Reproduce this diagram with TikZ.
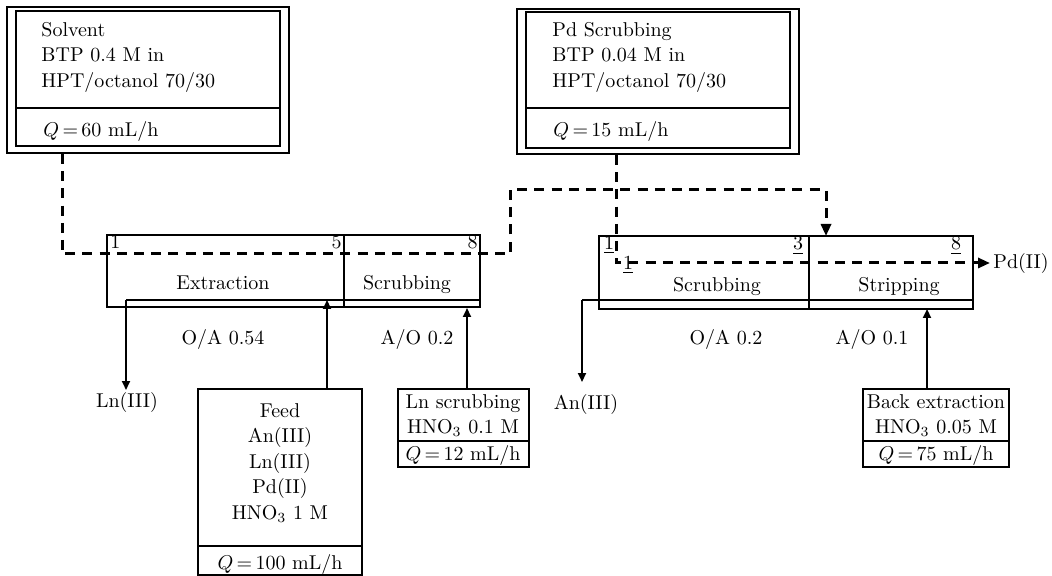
\documentclass[tikz,border=0pt]{standalone}
\usetikzlibrary{arrows.meta}

\begin{document}
\begin{tikzpicture}[x=0.5pt,y=-0.5pt,frame/.style={line width=0.6pt},organic/.style={line width=1.5pt,dash pattern=on 5pt off 3.6pt},aqueous/.style={line width=1pt},flowtip/.style={-{Triangle[length=4.5pt,width=4pt]}},orgtip/.style={-{Triangle[length=6pt,width=5pt]}},txt/.style={font=\fontsize{10}{12.75}\selectfont,inner sep=0pt,align=center},stage/.style={font=\fontsize{10}{12}\selectfont,inner sep=0pt}]
\useasboundingbox (0,0) rectangle (1052,576);
% feed boxes
\draw[frame] (7,7) rectangle (289,153);
\draw[frame] (16,11) rectangle (280,146);
\draw[frame] (16,108) -- (280,108);
\draw[frame] (517,9) rectangle (799,154);
\draw[frame] (526,12) rectangle (790,148);
\draw[frame] (526,108) -- (790,108);
\draw[frame] (198,389) rectangle (362,575);
\draw[frame] (198,546) -- (362,546);
\draw[frame] (398,389) rectangle (529,467);
\draw[frame] (398,441) -- (529,441);
\draw[frame] (863,389) rectangle (1009,467);
\draw[frame] (863,441) -- (1009,441);
% contactor banks
\draw[frame] (107,235) rectangle (480,307);
\draw[frame] (344,235) -- (344,307);
\draw[frame] (599,236) rectangle (973,309);
\draw[frame] (809,236) -- (809,309);
% flow points
\coordinate (solvout) at (62,154);
\coordinate (loopA) at (510,254);
\coordinate (loopB) at (826,190);
\coordinate (stripin) at (826,236);
\coordinate (pdout) at (616,155);
\coordinate (pdexit) at (990,263);
\coordinate (extrR) at (480,300);
\coordinate (lnout) at (126,300);
\coordinate (lnend) at (126,390);
\coordinate (scrR) at (973,300);
\coordinate (anout) at (582,300);
\coordinate (anend) at (582,382);
\coordinate (feedtop) at (327,389);
\coordinate (feedin) at (327,300);
\coordinate (lnsctop) at (467,389);
\coordinate (lnscin) at (467,308);
\coordinate (backtop) at (927,389);
\coordinate (backin) at (927,309);
% organic phase
\draw[organic,orgtip] (solvout) |- (loopA) |- (loopB) -- (stripin);
\draw[organic,orgtip] (pdout) |- (pdexit);
% aqueous phase
\draw[aqueous] (extrR) -- (lnout);
\draw[aqueous,flowtip] (lnout) -- (lnend);
\draw[aqueous] (scrR) -- (anout);
\draw[aqueous,flowtip] (anout) -- (anend);
\draw[aqueous,flowtip] (feedtop) -- (feedin);
\draw[aqueous,flowtip] (lnsctop) -- (lnscin);
\draw[aqueous,flowtip] (backtop) -- (backin);
% texts
\node[txt,anchor=north west,align=left] (solvtxt) at (41,22) {Solvent\\BTP 0.4 M in\\HPT/octanol 70/30};
\node[txt,anchor=base west] (solvq) at (43,137) {$Q\,{=}\,60$ mL/h};
\node[txt,anchor=north west,align=left] (pdtxt) at (552,22) {Pd Scrubbing\\BTP 0.04 M in\\HPT/octanol 70/30};
\node[txt,anchor=base west] (pdq) at (553,137) {$Q\,{=}\,15$ mL/h};
\node[txt,anchor=north] (feedtxt) at (280,403) {Feed\\An(III)\\Ln(III)\\Pd(II)\\HNO$_3$ 1 M};
\node[txt,anchor=base] (feedq) at (280,569) {$Q\,{=}\,100$ mL/h};
\node[txt,anchor=north] (lnsctxt) at (463,394) {Ln scrubbing\\HNO$_3$ 0.1 M};
\node[txt,anchor=base] (lnscq) at (463,460) {$Q\,{=}\,12$ mL/h};
\node[txt,anchor=north] (backtxt) at (936,394) {Back extraction\\HNO$_3$ 0.05 M};
\node[txt,anchor=base] (backq) at (936,460) {$Q\,{=}\,75$ mL/h};
\node[txt,anchor=base] (extr) at (223,290) {Extraction};
\node[txt,anchor=base] (scrL) at (407,290) {Scrubbing};
\node[txt,anchor=base] (scrRt) at (717,292) {Scrubbing};
\node[txt,anchor=base] (strip) at (899,292) {Stripping};
\node[stage,anchor=base west] (s1) at (110,249) {1};
\node[stage,anchor=base east] (s5) at (342,249) {5};
\node[stage,anchor=base east] (s8) at (478,249) {8};
\node[stage,anchor=base] (t1) at (609,250) {\underline{1}};
\node[stage,anchor=base] (t3) at (798,250) {\underline{3}};
\node[stage,anchor=base] (t8) at (956,250) {\underline{8}};
\node[stage,anchor=base] (t1b) at (628,270) {\underline{1}};
\node[txt,anchor=base] (oa1) at (223,344) {O/A 0.54};
\node[txt,anchor=base] (ao1) at (417,344) {A/O 0.2};
\node[txt,anchor=base] (oa2) at (726,344) {O/A 0.2};
\node[txt,anchor=base] (ao2) at (872,344) {A/O 0.1};
\node[txt,anchor=base] (lnIII) at (127,407) {Ln(III)};
\node[txt,anchor=base] (anIII) at (586,409) {An(III)};
\node[txt,anchor=west] (pdII) at (993,264) {Pd(II)};
\end{tikzpicture}
\end{document}
